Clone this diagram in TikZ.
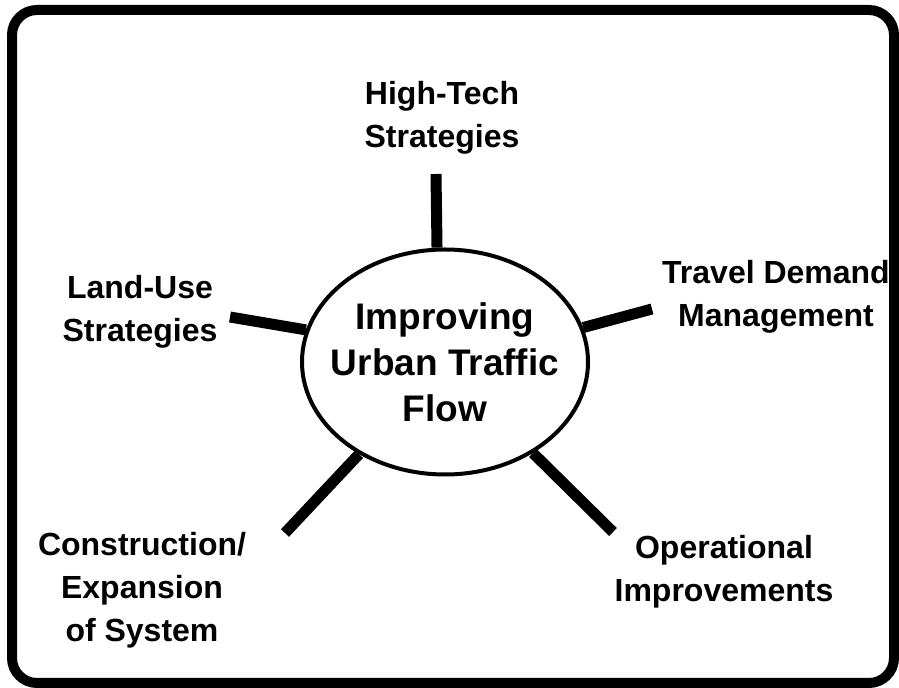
\documentclass[tikz,border=0pt]{standalone}
\usepackage{fontspec}
\setmainfont{Liberation Sans}
\usetikzlibrary{shapes.geometric}

\tikzset{
  spoke/.style={line width=5.5pt},
  branch/.style={align=center, inner sep=0pt,
    font=\fontsize{16}{21.5}\selectfont\bfseries},
  hub/.style={ellipse, draw, line width=2pt, fill=white,
    inner xsep=-6.5pt, inner ysep=0pt,
    minimum width=143pt, minimum height=112.5pt, align=center,
    font=\fontsize{18.5}{23}\selectfont\bfseries}
}

\begin{document}
\begin{tikzpicture}[x=0.5pt, y=-0.5pt]
	\useasboundingbox (0,0) rectangle (899,688);
	\draw[line width=5pt, rounded corners=12.5pt] (12,10) rectangle (894,683);

	% centre and branches
	\node[hub] (flow) at (445,362) {Improving\\Urban Traffic\\Flow};
	\node[branch] (hitech) at (442,118) {High-Tech\\Strategies};
	\node[branch] (tdm) at (776,297) {Travel Demand\\Management};
	\node[branch] (landuse) at (140,312) {Land-Use\\Strategies};
	\node[branch] (constr) at (142,590) {Construction/\\Expansion\\of System};
	\node[branch] (oper) at (724,572) {Operational\\Improvements};

	% spoke ends
	\coordinate (hitech end) at (436,174);
	\coordinate (tdm end) at (652,309);
	\coordinate (landuse end) at (230,317);
	\coordinate (constr end) at (285,533);
	\coordinate (oper end) at (613,532);

	\draw[spoke] (flow.94.6) -- (hitech end);
	\draw[spoke] (flow.14.8) -- (tdm end);
	\draw[spoke] (flow.167.7) -- (landuse end);
	\draw[spoke] (flow.227) -- (constr end);
	\draw[spoke] (flow.314) -- (oper end);
\end{tikzpicture}
\end{document}
